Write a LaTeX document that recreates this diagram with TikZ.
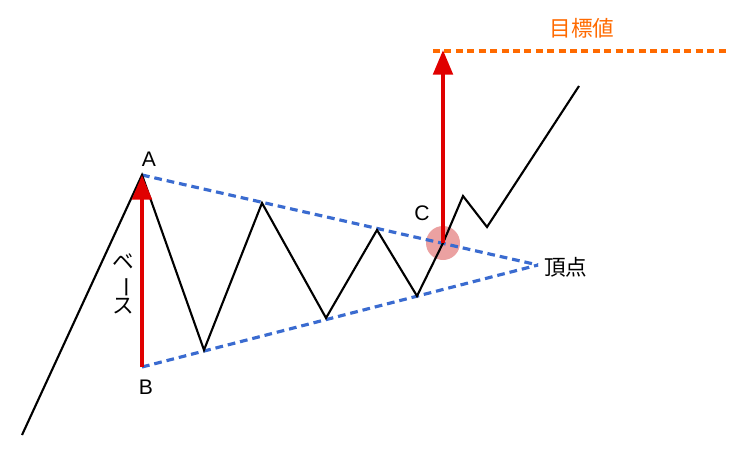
\documentclass[tikz,border=0pt]{standalone}
\usepackage{fontspec}
\setmainfont{Liberation Sans}
\newfontfamily\jpfont{Noto Sans CJK JP}
\usepackage{graphicx}
\usepackage{tikz}
\usetikzlibrary{calc,arrows.meta}
\definecolor{trendblue}{HTML}{3A6BD0}
\definecolor{goalorange}{HTML}{FF6A00}
\definecolor{basered}{HTML}{E00000}
\definecolor{breakpink}{HTML}{E89090}

\begin{document}
\begin{tikzpicture}[x=0.02cm,y=-0.02cm,
    price/.style={line width=1.2pt,black,line join=miter},
    trend/.style={line width=1.8pt,trendblue,dash pattern=on 4.4pt off 2.8pt},
    goal/.style={line width=2pt,goalorange,dash pattern=on 4pt off 2.5pt},
    measure/.style={line width=2.3pt,basered,-{Triangle[length=14pt,width=11pt]}},
    lbl/.style={font=\fontsize{12}{14}\selectfont,inner sep=0pt},
    jlbl/.style={font=\fontsize{12.3}{12.5}\selectfont\jpfont,inner sep=0pt}]
  \useasboundingbox (0,0) rectangle (750,450);
  % price path
  \coordinate (s) at (22,435);
  \coordinate (A) at (142,175);
  \coordinate (p1) at (204,350);
  \coordinate (p2) at (262,203);
  \coordinate (p3) at (326,318);
  \coordinate (p4) at (377,230);
  \coordinate (p5) at (417,296);
  \coordinate (C) at (443,243);
  \coordinate (p6) at (463,196);
  \coordinate (p7) at (487,227);
  \coordinate (e) at (579,86);
  \coordinate (B) at (142,367);
  \coordinate (apex) at (538,265);
  \coordinate (T) at (443,50);
  \coordinate (goalL) at (433,51);
  \coordinate (goalR) at (726,51);
  % breakout marker
  \fill[breakpink,opacity=0.85] (C) circle (17);
  % triangle
  \draw[trend] (A) -- (apex);
  \draw[trend] (B) -- (apex);
  \draw[price] (s) -- (A) -- (p1) -- (p2) -- (p3) -- (p4) -- (p5) -- (C) -- (p6) -- (p7) -- (e);
  % base and target
  \draw[measure] (B) -- (A);
  \draw[measure] (C) -- (T);
  \draw[goal] (goalL) -- (goalR);
  \node (Alabel) [lbl] at (149,159) {A};
  \node (Blabel) [lbl] at (146,387) {B};
  \node (Clabel) [lbl] at (422,213) {C};
  \node (apexlabel) [jlbl,anchor=west] at (544,267) {頂点};
  \node (goallabel) [jlbl,text=goalorange] at (582,28) {目標値};
  \node (baselabel) [jlbl,align=center] at (123,284) {ベ\\\rotatebox[origin=c]{-90}{ー}\\ス};
\end{tikzpicture}
\end{document}
